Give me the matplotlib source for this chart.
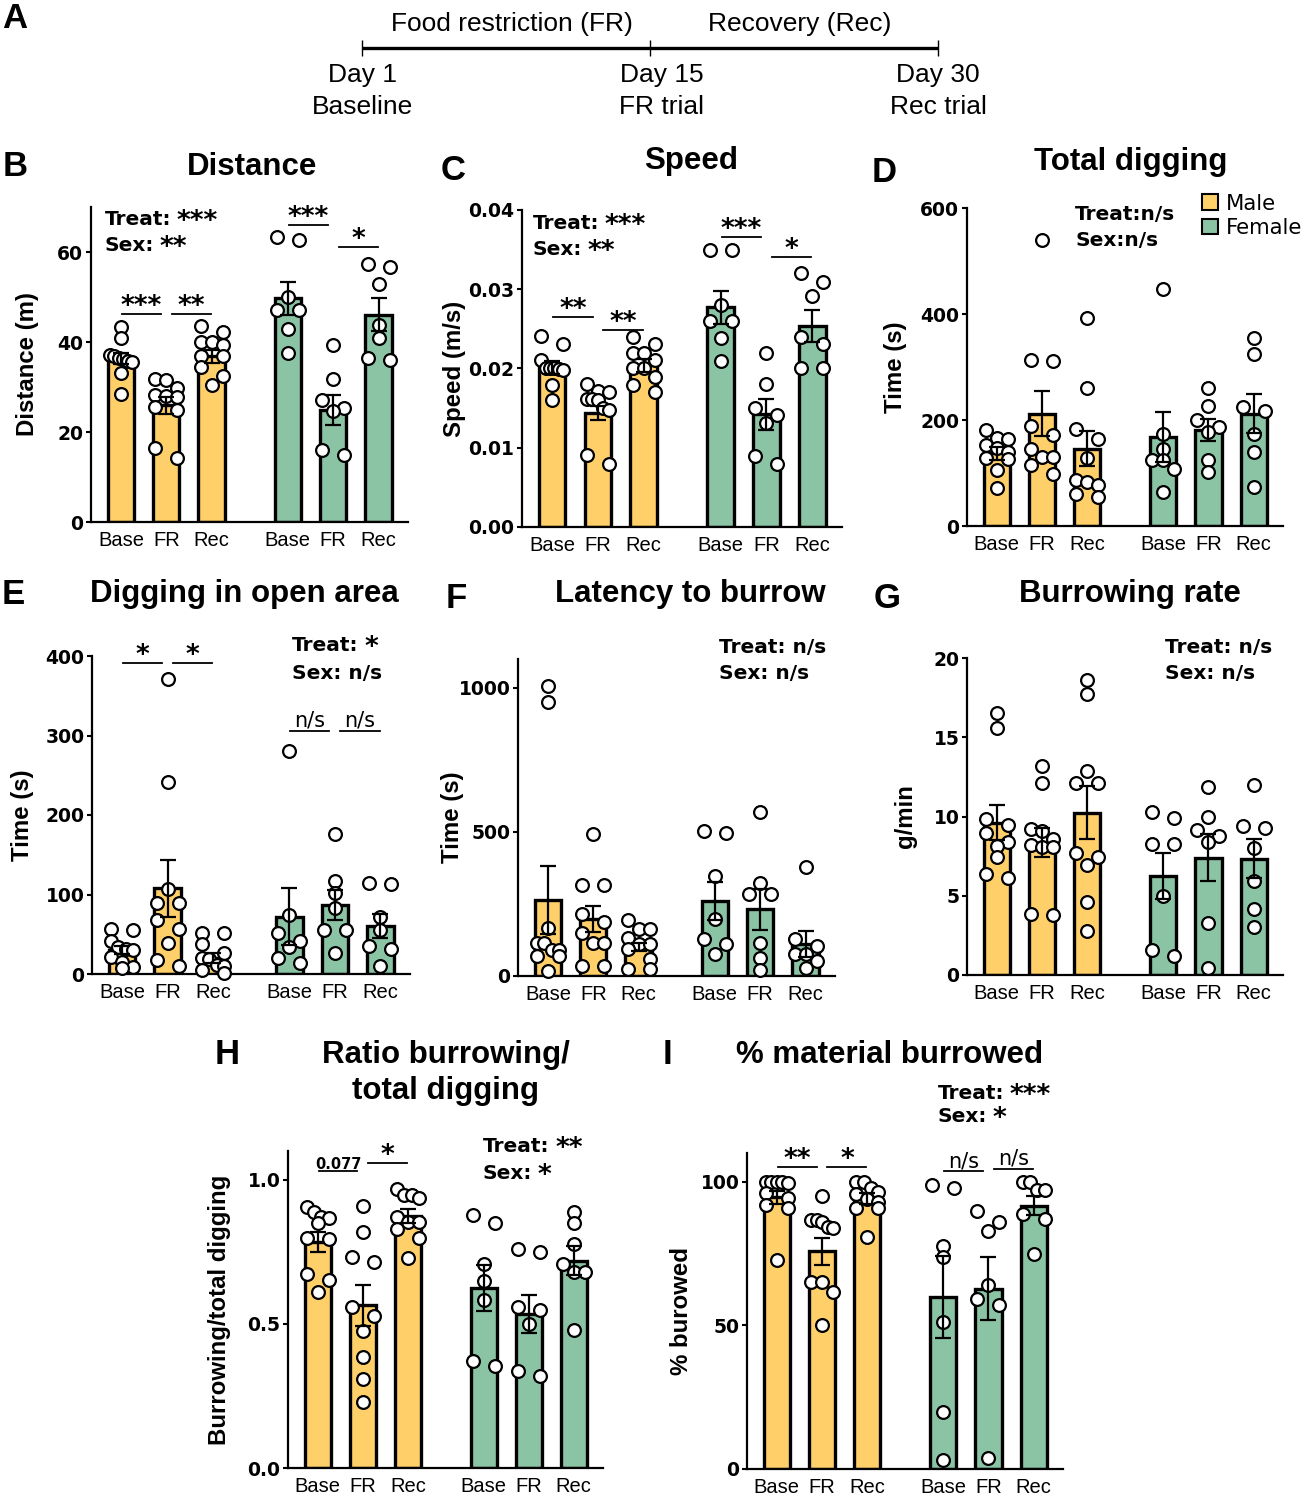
import numpy as np
import matplotlib
matplotlib.use('Agg')
import matplotlib.pyplot as plt
from matplotlib.patches import Patch
from matplotlib.ticker import FormatStrFormatter

W, H = 1306, 1500
MALE = '#FFCF6A'
FEMALE = '#8BC4A5'

conditions = ['Base', 'FR', 'Rec']
sexes = ['Male', 'Female']
xpos = np.array([0, 1, 2, 3.68, 4.68, 5.68])

# timeline (panel A)
phase_labels = ['Food restriction (FR)', 'Recovery (Rec)']
day_labels = ['Day 1', 'Day 15', 'Day 30']
trial_labels = ['Baseline', 'FR trial', 'Rec trial']

# order of bars: male Base/FR/Rec, female Base/FR/Rec
dist_mean = [36.4, 25.9, 36.8, 49.7, 24.9, 46.1]
dist_sem = [1.2, 1.8, 1.4, 3.7, 3.3, 3.6]
dist_pts = [
    [43.4, 41.0, 37.1, 36.8, 36.5, 36.2, 35.8, 35.5, 33.1, 28.5],
    [31.8, 31.6, 29.7, 28.2, 28.0, 27.8, 25.6, 25.0, 16.4, 14.2],
    [43.6, 42.3, 40.1, 39.9, 39.3, 37.0, 36.8, 34.5, 32.5, 30.5],
    [63.3, 62.6, 49.9, 47.1, 47.1, 43.0, 37.5],
    [39.3, 31.7, 27.2, 25.3, 24.6, 16.1, 14.8],
    [57.3, 56.7, 52.8, 43.8, 41.0, 36.0, 36.4],
]

speed_mean = [0.0201, 0.0144, 0.0204, 0.0277, 0.0142, 0.0254]
speed_sem = [0.0008, 0.0009, 0.0008, 0.0021, 0.0019, 0.0020]
speed_pts = [
    [0.0241, 0.0231, 0.0211, 0.0201, 0.0200, 0.0200, 0.0199, 0.0198, 0.0179, 0.0160],
    [0.0180, 0.0171, 0.0170, 0.0161, 0.0161, 0.0160, 0.0150, 0.0148, 0.0091, 0.0080],
    [0.0240, 0.0231, 0.0220, 0.0220, 0.0211, 0.0200, 0.0200, 0.0189, 0.0179, 0.0170],
    [0.0349, 0.0349, 0.0280, 0.0260, 0.0260, 0.0239, 0.0210],
    [0.0220, 0.0180, 0.0150, 0.0141, 0.0131, 0.0089, 0.0079],
    [0.0320, 0.0309, 0.0291, 0.0240, 0.0231, 0.0200, 0.0200],
]

dig_mean = [137, 212, 146, 168, 181, 212]
dig_sem = [12, 43, 33, 48, 20, 37]
dig_pts = [
    [181, 166, 164, 152, 148, 140, 128, 126, 105, 71],
    [539, 314, 312, 189, 171, 146, 130, 130, 115, 99],
    [392, 260, 183, 165, 128, 86, 83, 78, 61, 54],
    [447, 174, 146, 125, 125, 108, 64],
    [260, 226, 200, 186, 178, 125, 102],
    [355, 324, 225, 217, 173, 139, 74],
]

open_mean = [30, 108, 20, 72, 87, 60]
open_sem = [5, 36, 6, 36, 19, 15]
open_pts = [
    [57, 55, 42, 34, 32, 30, 22, 15, 9, 8],
    [371, 241, 107, 89, 89, 68, 57, 39, 18, 10],
    [52, 51, 38, 26, 20, 19, 11, 10, 5, 1],
    [280, 74, 52, 41, 34, 20, 14],
    [176, 117, 102, 83, 55, 55, 27],
    [114, 113, 72, 55, 35, 31, 10],
]

lat_mean = [264, 197, 101, 260, 231, 110]
lat_sem = [118, 45, 15, 66, 71, 45]
lat_pts = [
    [1006, 950, 168, 114, 114, 90, 90, 69, 69, 17],
    [494, 316, 316, 214, 188, 150, 116, 116, 35, 35],
    [193, 162, 162, 131, 112, 112, 92, 58, 23, 23],
    [503, 497, 347, 199, 127, 110, 77],
    [569, 321, 283, 283, 116, 64, 21],
    [378, 127, 104, 75, 75, 52, 27],
]

rate_mean = [9.6, 8.35, 10.25, 6.25, 7.4, 7.35]
rate_sem = [1.1, 0.9, 1.7, 1.45, 1.5, 1.2]
rate_pts = [
    [16.5, 15.6, 9.83, 9.47, 8.99, 8.42, 8.15, 7.43, 6.38, 6.1],
    [13.2, 12.1, 9.2, 9.1, 8.6, 8.2, 8.1, 8.1, 3.85, 3.8],
    [18.6, 17.7, 12.9, 12.1, 12.1, 7.68, 7.47, 6.95, 4.63, 2.78],
    [10.3, 9.9, 8.25, 8.25, 5.0, 1.58, 1.2],
    [11.85, 9.96, 9.16, 8.78, 8.42, 3.3, 0.46],
    [12.0, 9.43, 9.26, 8.0, 5.96, 4.15, 3.05],
]

ratio_mean = [0.785, 0.564, 0.875, 0.625, 0.535, 0.719]
ratio_sem = [0.034, 0.07, 0.024, 0.08, 0.065, 0.05]
ratio_pts = [
    [0.904, 0.887, 0.870, 0.868, 0.849, 0.798, 0.795, 0.673, 0.654, 0.612],
    [0.908, 0.820, 0.731, 0.714, 0.558, 0.529, 0.477, 0.385, 0.309, 0.229],
    [0.967, 0.948, 0.948, 0.936, 0.870, 0.852, 0.852, 0.831, 0.798, 0.729],
    [0.878, 0.850, 0.708, 0.650, 0.584, 0.373, 0.353],
    [0.760, 0.748, 0.558, 0.550, 0.500, 0.338, 0.318],
    [0.890, 0.850, 0.777, 0.708, 0.679, 0.679, 0.479],
]

burrow_mean = [94.6, 75.8, 94.2, 59.9, 62.8, 91.7]
burrow_sem = [2.3, 4.7, 1.8, 14.3, 11.1, 3.2]
burrow_pts = [
    [100, 100, 100, 100, 99.5, 96, 94.5, 92, 90.8, 72.6],
    [94.9, 86.8, 86.8, 86.0, 84.2, 84.0, 65.1, 65.0, 61.6, 50.1],
    [100, 100, 97.7, 96.5, 95.7, 94, 93, 90.9, 90.9, 80.7],
    [98.8, 97.8, 77.8, 73.8, 51.0, 20.0, 3.0],
    [89.7, 86.1, 83.0, 64.2, 59.1, 57.0, 3.8],
    [100, 100, 97.2, 97.2, 88.8, 87.1, 74.9],
]

# significance brackets: (bar i, bar j, height, label)
dist_sig = [(0, 1, 46.3, '***'), (1, 2, 46.3, '**'), (3, 4, 66.0, '***'), (4, 5, 61.1, '*')]
speed_sig = [(0, 1, 0.0265, '**'), (1, 2, 0.0249, '**'), (3, 4, 0.0366, '***'), (4, 5, 0.0341, '*')]
open_sig = [(0, 1, 391.6, '*'), (1, 2, 391.6, '*'), (3, 4, 305.7, 'n/s'), (4, 5, 305.7, 'n/s')]
ratio_sig = [(0, 1, 1.029, '0.077'), (1, 2, 1.060, '*')]
burrow_sig = [(0, 1, 105.2, '**'), (1, 2, 105.2, '*'), (3, 4, 103.6, 'n/s'), (4, 5, 104.4, 'n/s')]

ARIAL = 'Liberation Sans'
WIDE = 'DejaVu Sans'
STAR_SIZE = 19

fig = plt.figure(figsize=(W / 100, H / 100), dpi=100)


def add_frame(left, top, right, bottom):
    return fig.add_axes([left / W, 1 - bottom / H, (right - left) / W, (bottom - top) / H])


def fig_text(x, y, s, **kw):
    fig.text(x / W, 1 - y / H, s, **kw)


def swarm_x(ax, x0, vals, diam=13.0, half=11.0):
    # spread points with similar values sideways, like a prism scatter
    vals = np.asarray(vals, float)
    ypx = ax.transData.transform(np.column_stack([np.full(len(vals), x0), vals]))[:, 1]
    xscale = ax.transData.transform((1, 0))[0] - ax.transData.transform((0, 0))[0]
    order = np.argsort(-ypx, kind='stable')
    rows = []
    for i in order:
        if rows and ypx[rows[-1][0]] - ypx[i] < 0.8 * diam:
            rows[-1].append(i)
        else:
            rows.append([i])
    xs = np.full(len(vals), float(x0))
    for row in rows:
        k = len(row)
        if k > 1:
            step = 2 * half / (k - 1)
            for n, i in enumerate(row):
                xs[i] = x0 + (n - (k - 1) / 2) * step / xscale
    return xs


def draw_panel(ax, means, sems, pts, ymax, yticks, ylabel, ylab_x, fmt=None):
    ax.set_xlim(-0.66, 6.33)
    ax.set_ylim(0, ymax)
    colors = [MALE] * 3 + [FEMALE] * 3
    ax.bar(xpos, means, width=0.58, color=colors, edgecolor='black', linewidth=2.4, zorder=2)
    for x, vals in zip(xpos, pts):
        ax.plot(swarm_x(ax, x, vals), vals, 'o', mfc='white', mec='black', ms=9.2, mew=1.6,
                zorder=3, clip_on=False)
    ax.errorbar(xpos, means, yerr=sems, fmt='none', ecolor='black', elinewidth=1.6,
                capsize=5.8, capthick=1.6, zorder=4)
    for s in ['top', 'right']:
        ax.spines[s].set_visible(False)
    for s in ['left', 'bottom']:
        ax.spines[s].set_linewidth(1.6)
    ax.set_yticks(yticks)
    if fmt:
        ax.yaxis.set_major_formatter(FormatStrFormatter(fmt))
    ax.tick_params(axis='y', length=3.5, width=1.5, pad=2)
    for lab in ax.get_yticklabels():
        lab.set_fontfamily(WIDE)
        lab.set_fontweight('bold')
        lab.set_fontsize(13.5)
    ax.set_xticks(xpos)
    ax.set_xticklabels(conditions * 2, fontsize=14.5, family=ARIAL)
    ax.tick_params(axis='x', which='major', length=0, pad=6.5)
    ax.set_xticks([xpos[1], xpos[4]], minor=True)
    ax.tick_params(axis='x', which='minor', length=4.5, width=1.5)
    ax.text(ylab_x, 0.5, ylabel, transform=ax.transAxes, rotation=90, ha='center', va='center',
            fontsize=17.3, fontweight='bold', family=ARIAL)


def draw_sig(ax, sigs):
    for i, j, y, lab in sigs:
        mid = (xpos[i] + xpos[j]) / 2 + (-0.05 if i % 3 == 0 else 0.05)
        ax.plot([mid - 0.43, mid + 0.43], [y, y], color='black', lw=1.3, clip_on=False, zorder=5)
        if lab == 'n/s':
            ax.annotate(lab, (mid, y), xytext=(0, 3), textcoords='offset points', ha='center',
                        va='baseline', fontsize=15, family=WIDE)
        elif lab.startswith('0.'):
            ax.annotate(lab, (mid, y), xytext=(0, 2), textcoords='offset points', ha='center',
                        va='baseline', fontsize=10.5, fontweight='bold', family=WIDE)
        else:
            ax.annotate(lab, (mid, y), xytext=(0, 0), textcoords='offset points', ha='center',
                        va='baseline', fontsize=STAR_SIZE, fontweight='bold', family=WIDE)


def draw_stats(ax, x, ys, labels):
    # 'Treat'/'Sex' summary lines; trailing asterisks drawn a bit larger
    for y, lab in zip(ys, labels):
        body = lab.rstrip('*').rstrip()
        stars = lab[len(lab.rstrip('*')):]
        t = ax.text(x, y - 0.023, body, transform=ax.transAxes, ha='left', va='baseline',
                    fontsize=14.5, fontweight='bold', family=WIDE)
        if stars:
            ax.annotate(stars, xy=(1, y - 0.023), xycoords=(t, 'axes fraction'),
                        xytext=(4, -2.9), textcoords='offset points', ha='left', va='baseline',
                        fontsize=STAR_SIZE, fontweight='bold', family=WIDE)


# ---- panel A: timeline
ax_a = add_frame(362, 0, 938, 120)
ax_a.set_xlim(0, len(day_labels) - 1)
ax_a.set_ylim(120, 0)
ax_a.axis('off')
marks = np.arange(len(day_labels))
ax_a.plot([marks[0], marks[-1]], [48, 48], color='black', lw=2.4, solid_capstyle='butt', clip_on=False)
ax_a.vlines(marks, 40, 56, color='black', lw=1.0, clip_on=False)
for m, lab in zip(marks[:-1] + 0.52, phase_labels):
    ax_a.text(m, 24, lab, ha='center', va='center', fontsize=19, family=ARIAL)
for m, d, t in zip(marks, day_labels, trial_labels):
    shift = 0.04 if 0 < m < marks[-1] else 0
    ax_a.text(m + shift, 75, d, ha='center', va='center', fontsize=19, family=ARIAL)
    ax_a.text(m + shift, 107, t, ha='center', va='center', fontsize=19, family=ARIAL)

# ---- bar panels
ax_b = add_frame(91, 207, 408, 522)
draw_panel(ax_b, dist_mean, dist_sem, dist_pts, 70, [0, 20, 40, 60], 'Distance (m)', -0.199)
draw_sig(ax_b, dist_sig)
draw_stats(ax_b, 0.044, [0.965, 0.883], ['Treat: ***', 'Sex: **'])

ax_c = add_frame(522, 210, 842, 527)
draw_panel(ax_c, speed_mean, speed_sem, speed_pts, 0.04, [0, 0.01, 0.02, 0.03, 0.04],
           'Speed (m/s)', -0.212, fmt='%.2f')
draw_sig(ax_c, speed_sig)
draw_stats(ax_c, 0.034, [0.962, 0.88], ['Treat: ***', 'Sex: **'])

ax_d = add_frame(967, 208, 1283, 526)
draw_panel(ax_d, dig_mean, dig_sem, dig_pts, 600, [0, 200, 400, 600], 'Time (s)', -0.225)
draw_stats(ax_d, 0.342, [0.984, 0.902], ['Treat:n/s', 'Sex:n/s'])
handles = [Patch(facecolor=MALE, edgecolor='black', lw=1.5),
           Patch(facecolor=FEMALE, edgecolor='black', lw=1.5)]
ax_d.legend(handles, sexes, loc='upper left', bbox_to_anchor=(0.744, 1.045), frameon=False,
            borderpad=0, borderaxespad=0, handlelength=0.75, handleheight=0.75,
            handletextpad=0.35, labelspacing=0.2, prop={'family': WIDE, 'size': 15.3})

ax_e = add_frame(92, 656, 410, 974)
draw_panel(ax_e, open_mean, open_sem, open_pts, 400, [0, 100, 200, 300, 400], 'Time (s)', -0.22)
draw_sig(ax_e, open_sig)
draw_stats(ax_e, 0.629, [1.038, 0.95], ['Treat: *', 'Sex: n/s'])

ax_f = add_frame(518, 659, 835, 976)
draw_panel(ax_f, lat_mean, lat_sem, lat_pts, 1100, [0, 500, 1000], 'Time (s)', -0.208)
draw_stats(ax_f, 0.634, [1.041, 0.959], ['Treat: n/s', 'Sex: n/s'])

ax_g = add_frame(967, 658, 1283, 975)
draw_panel(ax_g, rate_mean, rate_sem, rate_pts, 20, [0, 5, 10, 15, 20], 'g/min', -0.196)
draw_stats(ax_g, 0.627, [1.038, 0.956], ['Treat: n/s', 'Sex: n/s'])

ax_h = add_frame(288, 1151, 603, 1468)
draw_panel(ax_h, ratio_mean, ratio_sem, ratio_pts, 1.1, [0, 0.5, 1.0],
           'Burrowing/total digging', -0.216, fmt='%.1f')
draw_sig(ax_h, ratio_sig)
draw_stats(ax_h, 0.619, [1.019, 0.934], ['Treat: **', 'Sex: *'])

ax_i = add_frame(747, 1153, 1063, 1469)
draw_panel(ax_i, burrow_mean, burrow_sem, burrow_pts, 110, [0, 50, 100], '% burowed', -0.206)
draw_sig(ax_i, burrow_sig)
draw_stats(ax_i, 0.604, [1.193, 1.12], ['Treat: ***', 'Sex: *'])

# ---- titles and panel letters
titles = [(252, 167, 'Distance'), (691, 161, 'Speed'), (1131, 162, 'Total digging'),
          (244, 594, 'Digging in open area'), (690, 594, 'Latency to burrow'),
          (1130, 594, 'Burrowing rate'), (446, 1073, 'Ratio burrowing/\ntotal digging'),
          (890, 1055, '% material burrowed')]
for x, y, t in titles:
    fig_text(x, y, t, ha='center', va='center', fontsize=22.5, fontweight='bold', family=ARIAL,
             linespacing=1.25)

letters = [(15, 18, 'A'), (15, 167, 'B'), (453, 170, 'C'), (884, 173, 'D'), (13, 594, 'E'),
           (456, 598, 'F'), (887, 598, 'G'), (227, 1054, 'H'), (667, 1054, 'I')]
for x, y, t in letters:
    fig_text(x, y, t, ha='center', va='center', fontsize=25, fontweight='bold', family=ARIAL)

fig.savefig('out.png', dpi=100)
